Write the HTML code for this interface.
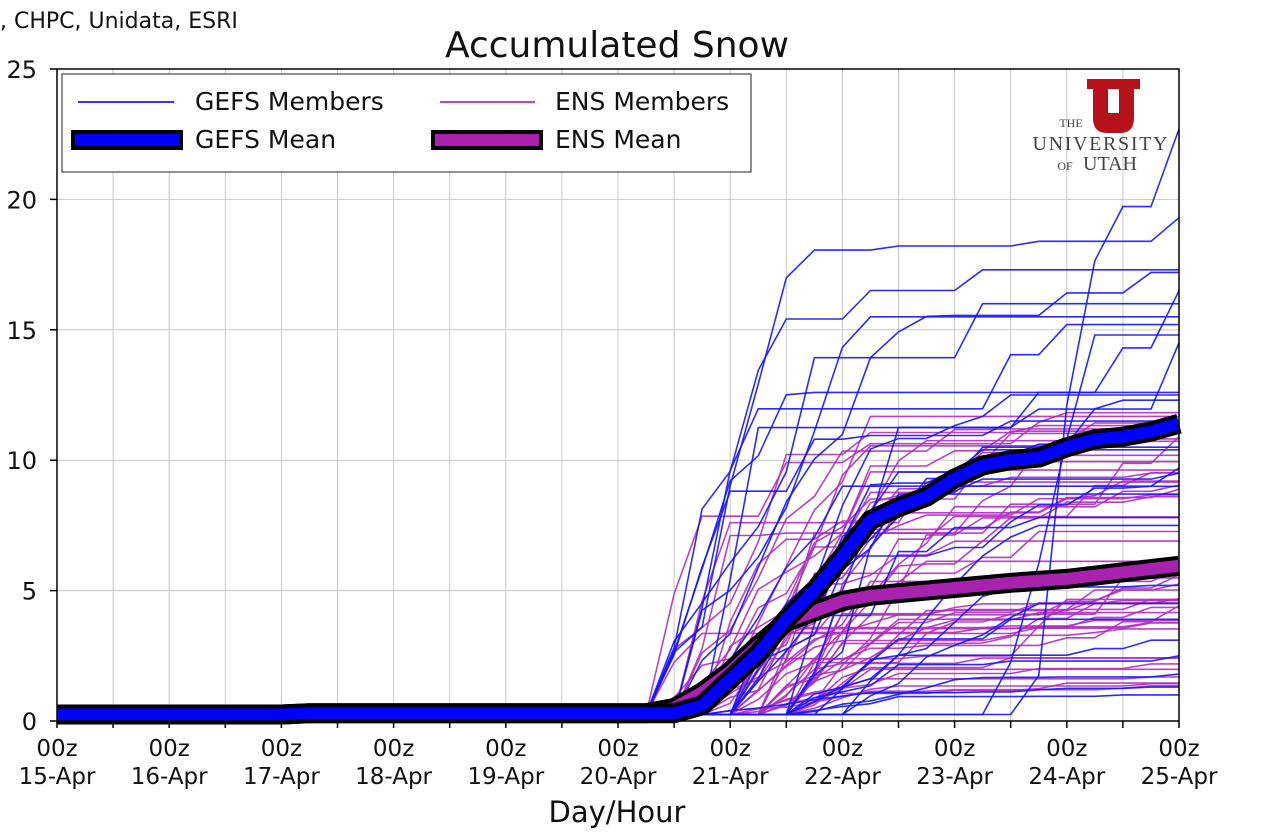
<!DOCTYPE html>
<html><head><meta charset="utf-8"><style>
body{margin:0;background:#fff;}
svg{display:block;font-family:"DejaVu Sans","Liberation Sans",sans-serif;}
</style></head><body>
<svg id="s" width="1276" height="834" viewBox="0 0 1276 834" xmlns="http://www.w3.org/2000/svg">
<rect width="1276" height="834" fill="#fff"/>
<text x="0" y="28" font-size="22" fill="#111">, CHPC, Unidata, ESRI</text>
<text x="617" y="57" font-size="36" text-anchor="middle" fill="#111">Accumulated Snow</text>
<g id="grid"></g>
<!-- logo -->
<g fill="#b5121b">
<rect x="1087" y="79" width="53" height="10"/>
<rect x="1093" y="79" width="15" height="36"/>
<rect x="1119" y="79" width="15" height="36"/>
<path d="M1093 108 L1134 108 L1134 118 Q1134 133 1120 133 L1107 133 Q1093 133 1093 118 Z"/>
</g>
<rect x="1108" y="89" width="11" height="24" fill="#fff"/>
<text x="1071" y="127" font-size="12" fill="#444" text-anchor="middle" font-family="Liberation Serif,serif">THE</text>
<text x="1100" y="150" font-size="20" fill="#444" text-anchor="middle" font-family="Liberation Serif,serif" textLength="135">UNIVERSITY</text>
<text x="1065" y="170" font-size="12" fill="#444" text-anchor="middle" font-family="Liberation Serif,serif">OF</text>
<text x="1110" y="170" font-size="20" fill="#444" text-anchor="middle" font-family="Liberation Serif,serif">UTAH</text>
<g id="members"></g>
<g id="means"></g>
<rect x="57" y="69" width="1122" height="652" fill="none" stroke="#000" stroke-width="1.5"/>
<g id="ticks" fill="#111"></g>
<text x="617" y="822" font-size="29" text-anchor="middle" fill="#111">Day/Hour</text>
<!-- legend -->
<rect x="62" y="74" width="689" height="98" fill="#fff" fill-opacity="0.92" stroke="#222" stroke-width="1"/>
<line x1="78" y1="102" x2="174" y2="102" stroke="#3333ff" stroke-width="2"/>
<text x="195" y="110" font-size="25" fill="#111">GEFS Members</text>
<line x1="440" y1="102" x2="535" y2="102" stroke="#bb44cc" stroke-width="2"/>
<text x="555" y="110" font-size="25" fill="#111">ENS Members</text>
<rect x="73" y="132" width="108" height="16" fill="#0000ff" stroke="#000" stroke-width="4"/>
<text x="195" y="148" font-size="25" fill="#111">GEFS Mean</text>
<rect x="433" y="132" width="108" height="16" fill="#aa22aa" stroke="#000" stroke-width="4"/>
<text x="555" y="148" font-size="25" fill="#111">ENS Mean</text>
</svg>
<script>
(function(){
var NS="http://www.w3.org/2000/svg";
function el(p,t,a,txt){var e=document.createElementNS(NS,t);for(var k in a)e.setAttribute(k,a[k]);if(txt!=null)e.textContent=txt;p.appendChild(e);return e;}
var X0=57,X1=1179,Y0=721,YT=69;
function X(d){return X0+d*(X1-X0)/10;}
function Y(v){return Y0-v*(Y0-YT)/25;}
var g=document.getElementById('grid'),tk=document.getElementById('ticks');
for(var v=5;v<=20;v+=5)el(g,'line',{x1:X0,x2:X1,y1:Y(v),y2:Y(v),stroke:'#c8c8c8','stroke-width':1});
for(var h=1;h<20;h++)el(g,'line',{x1:X(h/2),x2:X(h/2),y1:YT,y2:Y0,stroke:'#c8c8c8','stroke-width':1});
for(var h=0;h<=20;h++)el(tk,'line',{x1:X(h/2),x2:X(h/2),y1:Y0,y2:Y0+7,stroke:'#000','stroke-width':1.5});
for(var v=0;v<=25;v+=5){el(tk,'line',{x1:X0-7,x2:X0,y1:Y(v),y2:Y(v),stroke:'#000','stroke-width':1.5});el(tk,'text',{x:37,y:Y(v)+9,'text-anchor':'end','font-size':24},String(v));}
for(var d=0;d<=10;d++){el(tk,'text',{x:X(d),y:756,'text-anchor':'middle','font-size':23},'00z');el(tk,'text',{x:X(d),y:784,'text-anchor':'middle','font-size':23},(15+d)+'-Apr');}
var seed=98765;function r(){seed=(seed*1103515245+12345)%2147483648;return seed/2147483648;}
var m=document.getElementById('members');
function member(F,st,dur,tail,col){
 var pts=[],v=0.25,base=0.25;var inc=[],tot=0;
 for(var i=0;i<=40;i++){var w=0;if(i>st&&i<=st+dur)w=0.3+r()*2;else if(i>st+dur)w=r()<tail?r()*0.8:0;inc.push(w);tot+=w;}
 for(var i=0;i<=40;i++){v+=inc[i]/tot*(F-base);pts.push(X(i/4).toFixed(1)+','+Y(v).toFixed(1));}
 el(m,'polyline',{points:pts.join(' '),fill:'none',stroke:col,'stroke-width':1.6,'stroke-opacity':0.9});
}
for(var i=0;i<51;i++){var F=1+r()*12;member(F,21+Math.floor(r()*6),2+Math.floor(r()*6),0.2,'#b02ec0');}
var gefF=[22.7,19.3,17.3,17.2,16.5,16,15.5,15.2,14.8,14.5,12.6,12.5,12.3,11.5,10.5,10.4,9.7,9.5,9,8.7,7.8,7.5,6,4.5,3.9,3.1,2.5,1.8,1.3,1,5.2];
for(var i=0;i<gefF.length;i++){var late=r()<0.35;member(gefF[i],late?26+Math.floor(r()*10):21+Math.floor(r()*6),2+Math.floor(r()*6),late?0.3:0.25,'#1414ff');}
var mn=document.getElementById('means');
function mean(arr,col){var p=arr.map(function(a){return X(a[0]).toFixed(1)+','+Y(a[1]).toFixed(1)}).join(' ');
 el(mn,'polyline',{points:p,fill:'none',stroke:'#000','stroke-width':20,'stroke-linejoin':'round'});
 el(mn,'polyline',{points:p,fill:'none',stroke:col,'stroke-width':12,'stroke-linejoin':'round'});}
mean([[0,0.25],[2,0.25],[2.25,0.3],[5.25,0.3],[5.5,0.5],[5.75,1.1],[6,1.9],[6.25,2.9],[6.5,3.8],[6.75,4.2],[7,4.6],[7.25,4.8],[7.5,4.9],[7.75,5.0],[8,5.1],[8.5,5.3],[9,5.45],[9.5,5.7],[10,5.95]],'#a822b0');
mean([[0,0.25],[2,0.25],[2.25,0.3],[5.25,0.3],[5.5,0.3],[5.75,0.6],[6,1.6],[6.25,2.6],[6.5,3.9],[6.75,5.0],[7,6.3],[7.25,7.7],[7.5,8.2],[7.75,8.6],[8,9.3],[8.25,9.8],[8.5,10.0],[8.75,10.1],[9,10.5],[9.25,10.8],[9.5,10.9],[9.75,11.1],[10,11.4]],'#0000ff');
})();
</script>
</body></html>
